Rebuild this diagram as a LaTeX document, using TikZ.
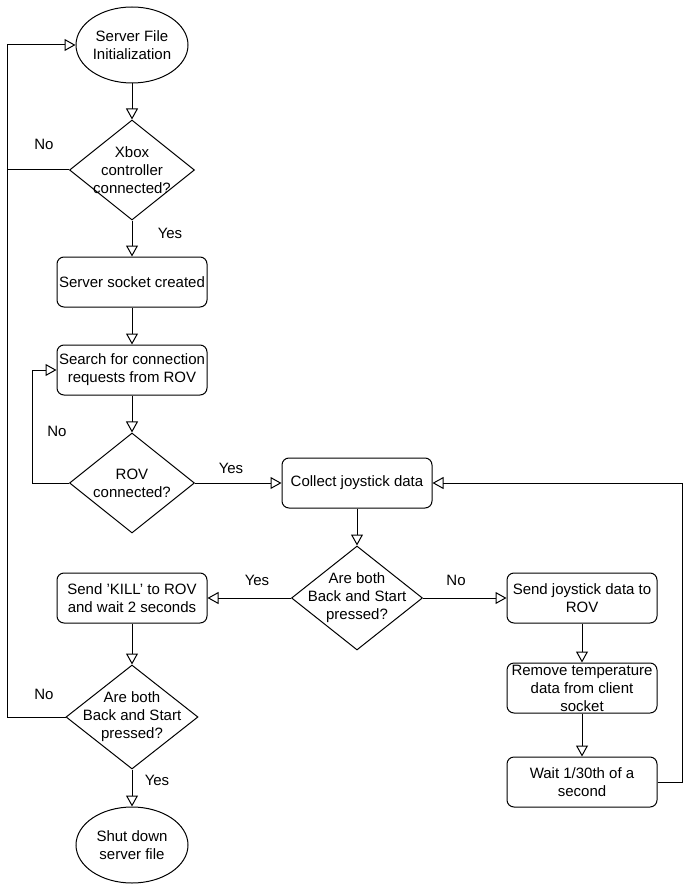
\documentclass[tikz,border=0pt]{standalone}
\usepackage{fontspec}
\setmainfont{Liberation Sans}
\usetikzlibrary{shapes.geometric}
\usetikzlibrary{arrows.meta}

\begin{document}
\begin{tikzpicture}[x=1pt,y=-1pt,line width=1pt,
              font=\fontsize{15}{18}\selectfont,
              every node/.style={align=center},
              terminal/.style={ellipse,draw,minimum width=112,minimum height=76,inner sep=0},
              process/.style={rectangle,rounded corners=7,draw,minimum width=150,minimum height=50,inner sep=1},
              decision/.style={diamond,draw,minimum width=125,minimum height=100,inner sep=0},
              flow/.style={-{Triangle[open,length=11pt,width=12pt]}}]
  \useasboundingbox (0,0) rectangle (686,885);
  \node[terminal] (init) at (132,45) {Server File\\Initialization};
  \node[decision,label={[align=center]center:Xbox\\controller\\connected?}] (xbox) at (132,170) {};
  \node[process] (socket) at (132,282) {Server socket created};
  \node[process] (search) at (132,370) {Search for connection\\requests from ROV};
  \node[decision,label={[align=center]center:ROV\\connected?}] (rovc) at (132,483) {};
  \node[process] (collect) at (357,483) {Collect joystick data};
  \node[decision,minimum width=131,minimum height=104,
        label={[align=center]center:Are both\\Back and Start\\pressed?}] (both) at (357,598) {};
  \node[process] (kill) at (132,598) {Send 'KILL' to ROV\\and wait 2 seconds};
  \node[process] (send) at (582,598) {Send joystick data to\\ROV};
  \node[process] (remove) at (582,688) {Remove temperature\\data from client\\socket};
  \node[process] (wait) at (582,782) {Wait 1/30th of a\\second};
  \node[decision,minimum width=132,minimum height=104,
        label={[align=center]center:Are both\\Back and Start\\pressed?}] (both2) at (132,717) {};
  \node[terminal] (shut) at (132,845) {Shut down\\server file};

  \coordinate (lx) at (7,0);
  \coordinate (sx) at (32,0);
  \coordinate (rx) at (682,0);

  \draw[flow] (init) -- (xbox);
  \draw[flow] (xbox.west) -- (xbox.west -| lx) |- (init.west);
  \draw[flow] (xbox) -- (socket);
  \draw[flow] (socket) -- (search);
  \draw[flow] (search) -- (rovc);
  \draw[flow] (rovc.west) -- (rovc.west -| sx) |- (search.west);
  \draw[flow] (rovc.east) -- (collect.west);
  \draw[flow] (collect) -- (both);
  \draw[flow] (both.west) -- (kill.east);
  \draw[flow] (both.east) -- (send.west);
  \draw[flow] (send) -- (remove);
  \draw[flow] (remove) -- (wait);
  \draw[flow] (wait.east) -- (wait.east -| rx) |- (collect.east);
  \draw[flow] (kill) -- (both2);
  \draw (both2.west) -- (both2.west -| lx) -- (xbox.west -| lx);
  \draw[flow] (both2) -- (shut);

  \node (no1) at (44,144) {No};
  \node (yes1) at (170,233) {Yes};
  \node (no2) at (57,431) {No};
  \node (yes2) at (231,468) {Yes};
  \node (yes3) at (257,580) {Yes};
  \node (no3) at (456,580) {No};
  \node (no4) at (44,694) {No};
  \node (yes4) at (157,780) {Yes};
\end{tikzpicture}
\end{document}
